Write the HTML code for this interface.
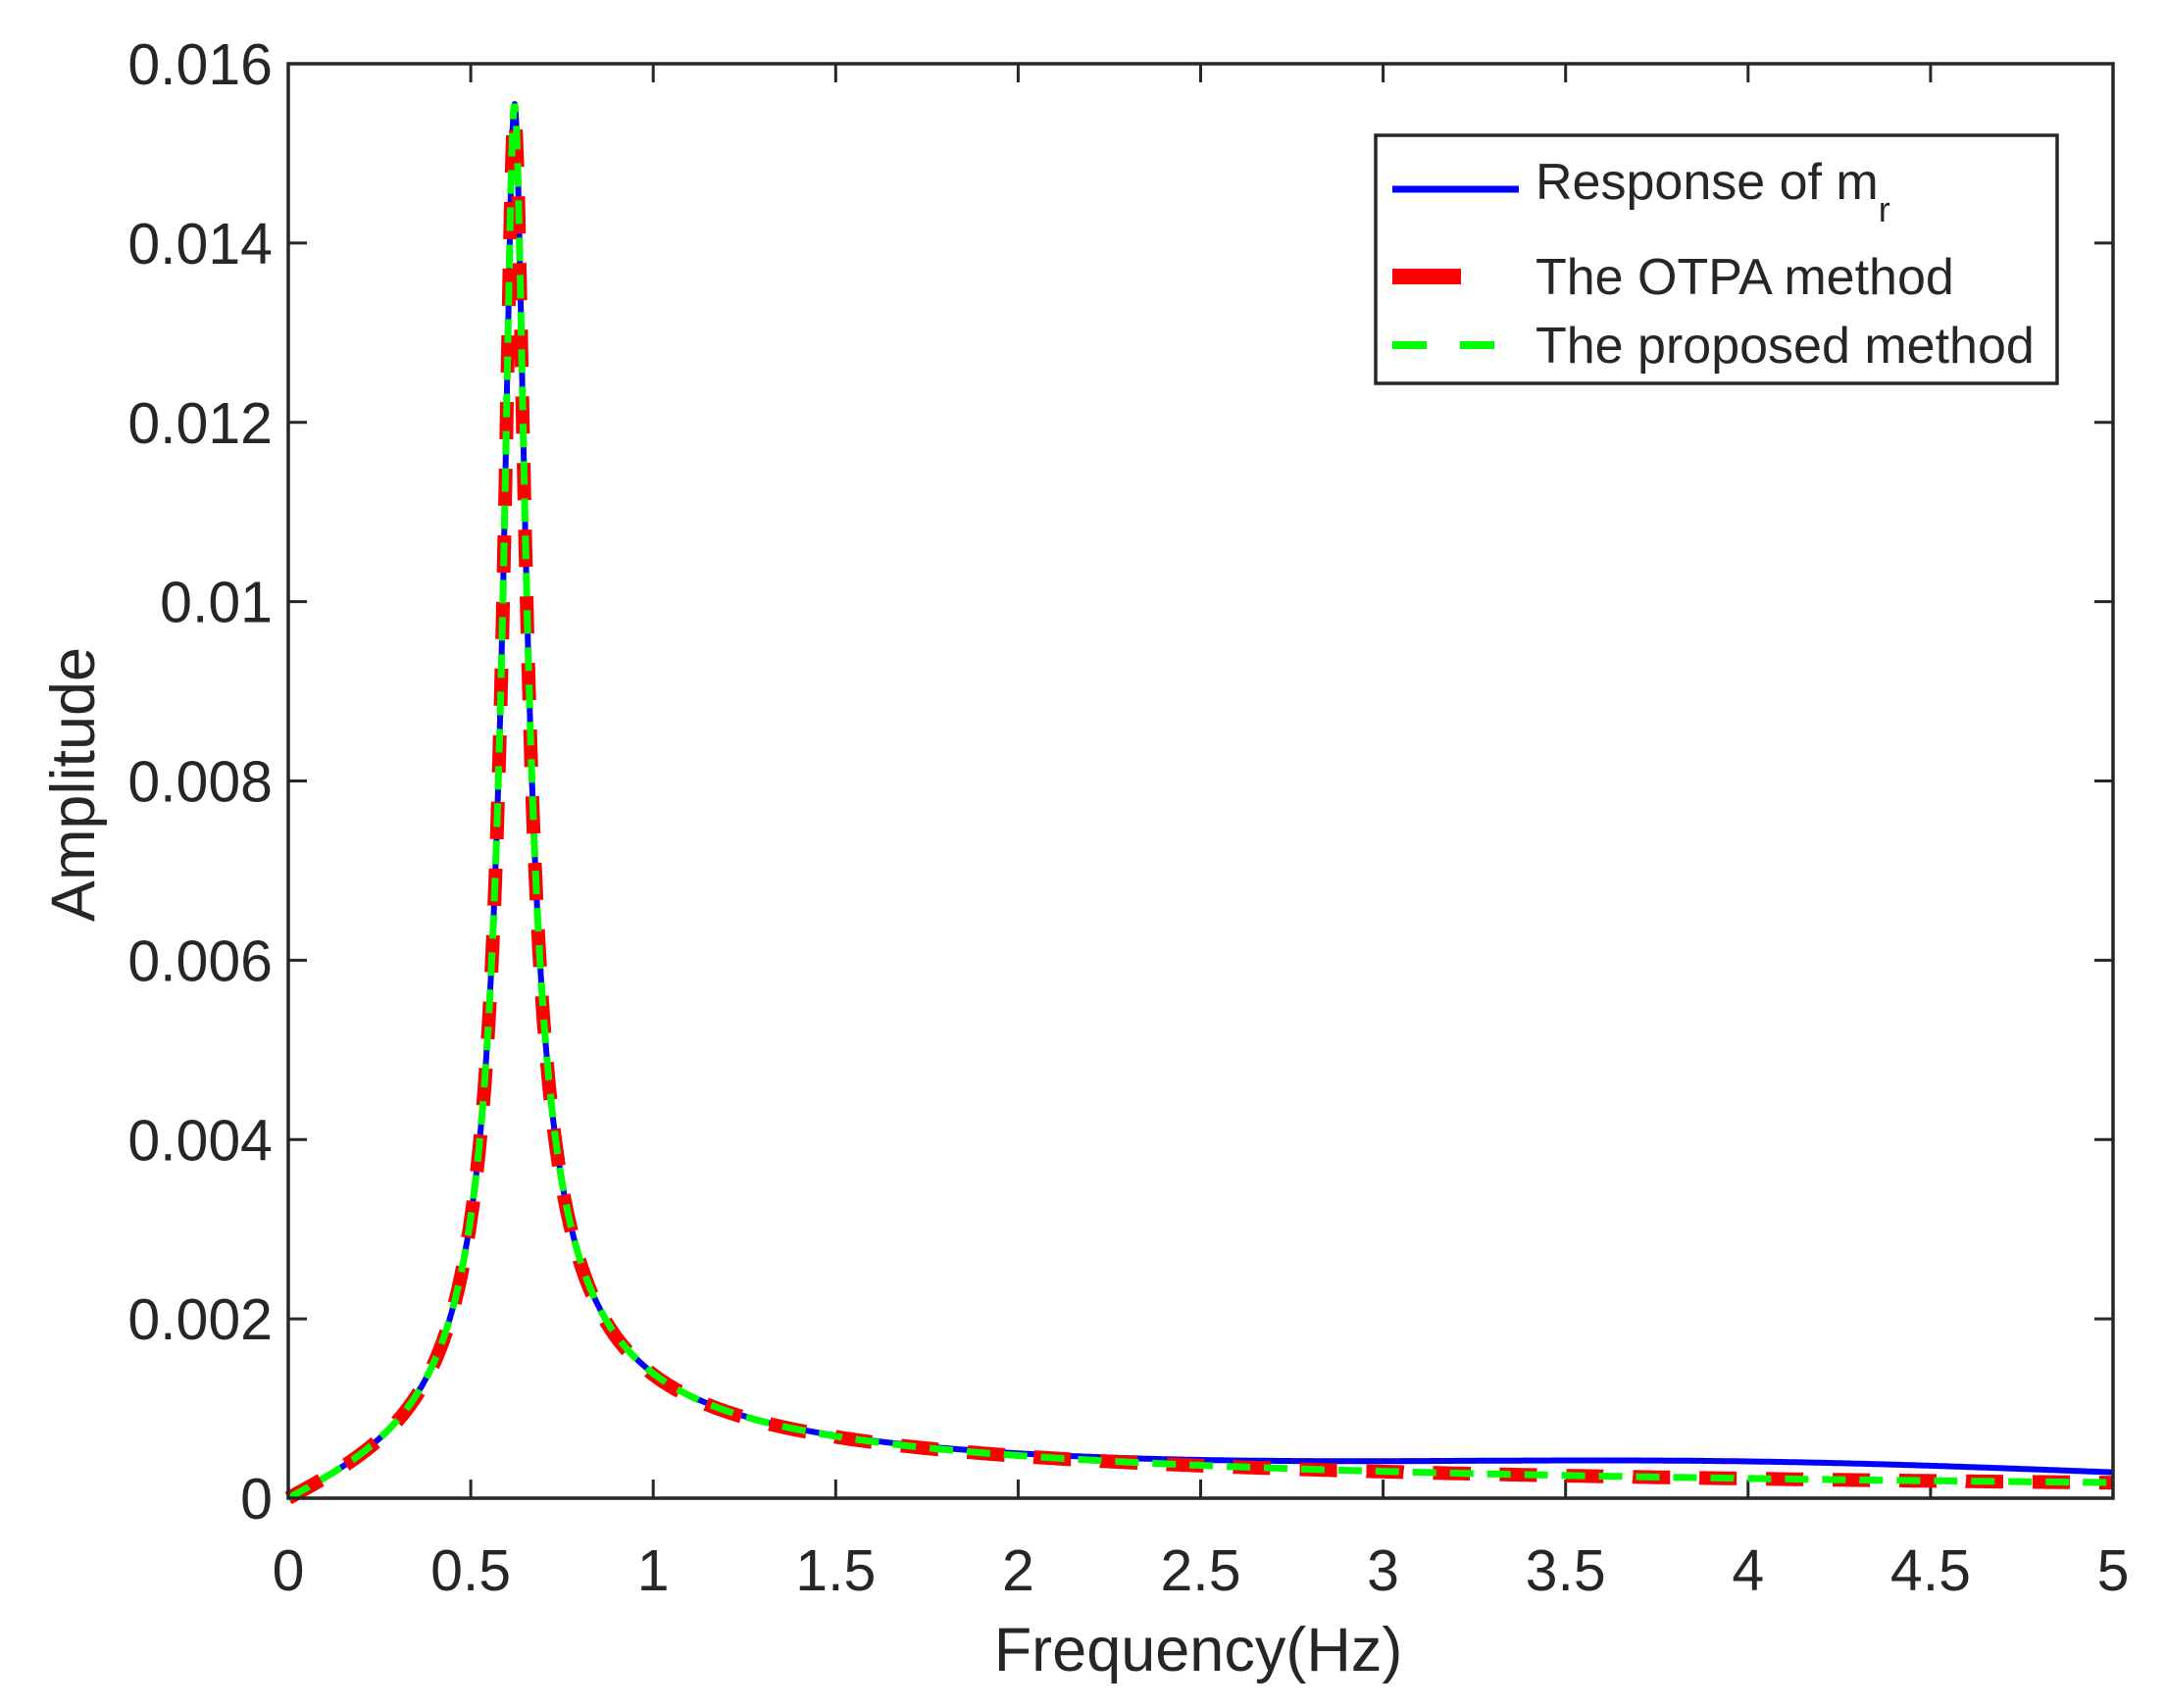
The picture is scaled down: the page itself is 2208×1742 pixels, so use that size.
<!DOCTYPE html>
<html><head><meta charset="utf-8"><style>
html,body{margin:0;padding:0;background:#fff;}
svg{display:block;}
text{font-family:"Liberation Sans",Arial,sans-serif;fill:#262626;}
</style></head><body>
<svg id="s" width="2208" height="1742" viewBox="0 0 2208 1742" xmlns="http://www.w3.org/2000/svg">
<rect width="2208" height="1742" fill="#fff"/>
<g id="ticks" stroke="#262626" stroke-width="3"></g>
<g id="labels"></g>
<path id="blue" fill="none" stroke="#0000ff" stroke-width="6" stroke-linejoin="round"/>
<path id="red" fill="none" stroke="#ff0000" stroke-width="14" stroke-dasharray="38 30"/>
<path id="green" fill="none" stroke="#00ff00" stroke-width="7" stroke-dasharray="24 14"/>
<rect x="294" y="65" width="1861" height="1463" fill="none" stroke="#262626" stroke-width="3.5"/>
<text x="1222" y="1704" font-size="63" text-anchor="middle">Frequency(Hz)</text>
<text transform="translate(96,800) rotate(-90)" font-size="63" text-anchor="middle">Amplitude</text>
<rect x="1403" y="138" width="695" height="253" fill="#fff" stroke="#262626" stroke-width="3.5"/>
<line x1="1420" y1="193" x2="1549" y2="193" stroke="#0000ff" stroke-width="7"/>
<text x="1566" y="203" font-size="52">Response of m<tspan font-size="36" dy="23">r</tspan></text>
<line x1="1420" y1="282" x2="1490" y2="282" stroke="#ff0000" stroke-width="16"/>
<text x="1566" y="300" font-size="52">The OTPA method</text>
<line x1="1420" y1="352" x2="1455" y2="352" stroke="#00ff00" stroke-width="8"/>
<line x1="1489" y1="352" x2="1524" y2="352" stroke="#00ff00" stroke-width="8"/>
<text x="1566" y="370" font-size="52">The proposed method</text>
</svg>
<script>
var L=294,R=2155,T=65,B=1528;
function X(f){return L+f/5*(R-L);}
function Y(a){return B-a/0.016*(B-T);}
var ns="http://www.w3.org/2000/svg";
var tk=document.getElementById('ticks'),lb=document.getElementById('labels');
function el(p,n,a,t){var e=document.createElementNS(ns,n);for(var k in a)e.setAttribute(k,a[k]);if(t!==undefined)e.textContent=t;p.appendChild(e);}
for(var i=0;i<=10;i++){var x=X(i*0.5);
 el(tk,'line',{x1:x,y1:B,x2:x,y2:B-19});el(tk,'line',{x1:x,y1:T,x2:x,y2:T+19});
 el(lb,'text',{x:x,y:1622,'text-anchor':'middle','font-size':59},String(i*0.5));}
var yl=['0','0.002','0.004','0.006','0.008','0.01','0.012','0.014','0.016'];
for(var j=0;j<=8;j++){var y=Y(j*0.002);
 el(tk,'line',{x1:L,y1:y,x2:L+19,y2:y});el(tk,'line',{x1:R,y1:y,x2:R-19,y2:y});
 el(lb,'text',{x:278,y:y+21,'text-anchor':'end','font-size':59},yl[j]);}
var k=0.00086,f0=0.62,z=0.0446;
function base(f){return k*f/Math.sqrt(Math.pow(f0*f0-f*f,2)+Math.pow(2*z*f0*f,2));}
function blue(f){return base(f)+0.00019*Math.exp(-Math.pow((f-4.0)/1.4,2));}
function path(fn){var d='';for(var i=0;i<=2000;i++){var f=i/2000*5;d+=(i?'L':'M')+X(f).toFixed(1)+' '+Y(fn(f)).toFixed(1);}return d;}
document.getElementById('blue').setAttribute('d',path(blue));
document.getElementById('red').setAttribute('d',path(function(f){return base(f)*0.99;}));
document.getElementById('green').setAttribute('d',path(base));
</script>
</body></html>
